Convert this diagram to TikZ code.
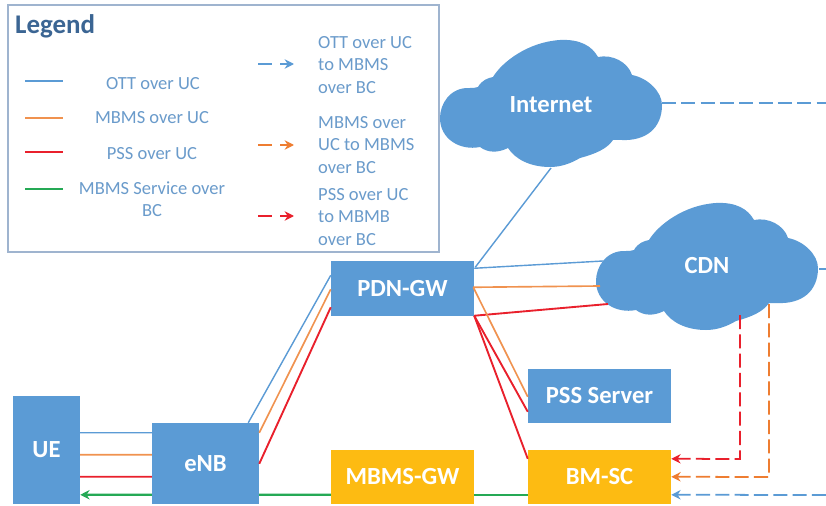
\documentclass[tikz,border=0pt]{standalone}
\usepackage{fontspec}
\setmainfont{Carlito}
\usetikzlibrary{arrows.meta}
\definecolor{boxblue}{HTML}{5B9BD5}
\definecolor{boxyellow}{HTML}{FDBB12}
\definecolor{lineorange}{HTML}{F0924F}
\definecolor{dashorange}{HTML}{EE7D31}
\definecolor{linered}{HTML}{E9202C}
\definecolor{linegreen}{HTML}{25A955}
\definecolor{legendframe}{HTML}{9FB4CF}
\definecolor{legendtitle}{HTML}{3B6593}
\definecolor{legendtext}{HTML}{6A9BCB}
\begin{document}
\begin{tikzpicture}[x=0.03cm, y=-0.03cm]
	\tikzstyle{Box} = [rectangle, inner sep=0pt, text=white, font=\fontsize{21}{24}\bfseries\selectfont]
	\tikzstyle{Blue} = [Box, fill=boxblue]
	\tikzstyle{Yellow} = [Box, fill=boxyellow]
	\tikzstyle{Wide} = [minimum width=4.29cm, minimum height=1.62cm]
	\tikzstyle{CloudText} = [inner sep=0pt, text=white, font=\fontsize{21}{24}\bfseries\selectfont]
	\tikzstyle{Key} = [inner sep=0pt, text=legendtext, font=\fontsize{15.8}{19}\selectfont, align=center]
	\tikzstyle{KeyLeft} = [Key, anchor=west, align=left]
	\tikzstyle{Ott} = [boxblue, line width=1.2pt]
	\tikzstyle{Mbms} = [lineorange, line width=1.4pt]
	\tikzstyle{Pss} = [linered, line width=1.6pt]
	\tikzstyle{Service} = [linegreen, line width=2pt]
	\tikzstyle{arrow} = [->,>={Stealth[length=8pt,width=8pt]}]
	\tikzstyle{Dash} = [arrow, line width=1.5pt, dash pattern=on 12pt off 4.5pt]
	\tikzset{CloudShape/.pic={
		\fill[boxblue] (-110,14) .. controls (-110,0) and (-100,-17) .. (-80,-16)
		.. controls (-77,-16) and (-75,-16) .. (-72,-17)
		.. controls (-68,-24) and (-62,-26) .. (-57,-27)
		.. controls (-48,-42) and (-22,-62) .. (10,-64)
		.. controls (30,-65) and (42,-58) .. (48,-47)
		.. controls (62,-50) and (78,-42) .. (82,-29)
		.. controls (98,-26) and (112,-12) .. (112,1)
		.. controls (112,25) and (95,37) .. (72,36)
		.. controls (69,36) and (66,36) .. (63,36)
		.. controls (57,45) and (45,50) .. (30,54)
		.. controls (20,60) and (10,63) .. (0,63)
		.. controls (-20,63) and (-35,55) .. (-42,44)
		.. controls (-52,49) and (-62,49) .. (-70,43)
		.. controls (-90,47) and (-110,35) .. (-110,14) -- cycle;
	}}

	\useasboundingbox (0,0) rectangle (826,506);
	\fill[white] (0,0) rectangle (826,506);

	% legend
	\node (legend) [draw=legendframe, line width=1.2pt, minimum width=12.93cm, minimum height=7.41cm, inner sep=0pt] at (223.5,128.5) {};
	\node (title) [inner sep=0pt, anchor=west, text=legendtitle, font=\fontsize{23}{26}\bfseries\selectfont] at (15,26.5) {Legend};
	\node (t1) [Key] at (153,84) {OTT over UC};
	\node (t2) [Key] at (152,118) {MBMS over UC};
	\node (t3) [Key] at (152,154) {PSS over UC};
	\node (t4) [Key] at (152,199) {MBMS Service over\\BC};
	\node (t5) [KeyLeft] at (318,65) {OTT over UC\\to MBMS\\over BC};
	\node (t6) [KeyLeft] at (318,145) {MBMS over\\UC to MBMS\\over BC};
	\node (t7) [KeyLeft] at (318,217) {PSS over UC\\to MBMB\\over BC};
	\coordinate (k1) at (25,81);
	\coordinate (k2) at (25,118);
	\coordinate (k3) at (25,152);
	\coordinate (k4) at (25,189);
	\coordinate (k5) at (258,64);
	\coordinate (k6) at (258,145);
	\coordinate (k7) at (258,216);
	\draw [Ott] (k1) -- ++(38,0);
	\draw [Mbms] (k2) -- ++(38,0);
	\draw [Pss] (k3) -- ++(38,0);
	\draw [Service] (k4) -- ++(38,0);
	\draw [boxblue, line width=1.3pt] (k5) -- ++(14,0);
	\draw [boxblue, line width=1.3pt, arrow] ([shift={(22,0)}]k5) -- ++(14,0);
	\draw [dashorange, line width=1.3pt] (k6) -- ++(14,0);
	\draw [dashorange, line width=1.3pt, arrow] ([shift={(22,0)}]k6) -- ++(14,0);
	\draw [linered, line width=1.3pt] (k7) -- ++(14,0);
	\draw [linered, line width=1.3pt, arrow] ([shift={(22,0)}]k7) -- ++(14,0);

	% network
	\node (ue) [Blue, minimum width=2.01cm, minimum height=3.24cm] at (46.5,450) {UE};
	\node (enb) [Blue, minimum width=3.21cm, minimum height=2.43cm] at (205.5,463.5) {eNB};
	\node (pdn) [Blue, Wide] at (402.5,288.5) {PDN-GW};
	\node (pss) [Blue, Wide] at (599.5,396) {PSS Server};
	\node (mbms) [Yellow, Wide] at (402.5,477) {MBMS-GW};
	\node (bmsc) [Yellow, Wide] at (599.5,477) {BM-SC};
	\pic at (550,104) {CloudShape};
	\pic at (706,267) {CloudShape};
	\node (internet) [CloudText] at (551,105) {Internet};
	\node (cdn) [CloudText] at (707,266) {CDN};

	\coordinate (east1) at (826,103);
	\coordinate (east2) at (826,269);
	\coordinate (east3) at (826,495);

	\draw [Ott] ([shift={(0,37)}]ue.north east) -- ([shift={(0,10)}]enb.north west);
	\draw [Mbms] ([shift={(0,59)}]ue.north east) -- ([shift={(0,32)}]enb.north west);
	\draw [Pss] ([shift={(0,81)}]ue.north east) -- ([shift={(0,54)}]enb.north west);
	\draw [Service, arrow] ([shift={(0,72)}]enb.north west) -- ([shift={(0,99)}]ue.north east);
	\draw [Service] ([shift={(0,45)}]mbms.north west) -- ([shift={(0,72)}]enb.north east);
	\draw [Service] ([shift={(0,45)}]bmsc.north west) -- ([shift={(0,45)}]mbms.north east);

	\draw [Ott] ([shift={(-11,0)}]enb.north east) -- ([shift={(0,14)}]pdn.north west);
	\draw [Mbms] ([shift={(0,10)}]enb.north east) -- ([shift={(0,28)}]pdn.north west);
	\draw [Pss] ([shift={(0,41)}]enb.north east) -- ([shift={(0,46)}]pdn.north west);

	\draw [Ott] ([shift={(1,6)}]pdn.north east) -- ([shift={(0,63)}]internet.center);
	\draw [Ott] ([shift={(0,7)}]pdn.north east) -- ([shift={(-104,-5)}]cdn.center);
	\draw [Mbms] ([shift={(-1,26)}]pdn.north east) -- ([shift={(-107,20)}]cdn.center);
	\draw [Pss] (pdn.south east) -- ([shift={(-99,38)}]cdn.center);
	\draw [Mbms] ([shift={(-1,26)}]pdn.north east) -- ([shift={(0,28)}]pss.north west);
	\draw [Pss] (pdn.south east) -- ([shift={(0,43)}]pss.north west);
	\draw [Pss] (pdn.south east) -- ([shift={(0,9)}]bmsc.north west);

	\draw [Dash, linered] ([shift={(33,49)}]cdn.center) -- ([shift={(33,193)}]cdn.center) -- ([shift={(0,9)}]bmsc.north east);
	\draw [Dash, dashorange] ([shift={(62,38)}]cdn.center) -- ([shift={(62,211)}]cdn.center) -- ([shift={(0,27)}]bmsc.north east);
	\draw [Dash, boxblue] (east3) -- ([shift={(0,45)}]bmsc.north east);
	\draw [boxblue, line width=1.5pt, dash pattern=on 12pt off 4.5pt] ([shift={(111,-2)}]internet.center) -- (east1);
	\draw [boxblue, line width=1.2pt] ([shift={(112,3)}]cdn.center) -- (east2);
\end{tikzpicture}
\end{document}
